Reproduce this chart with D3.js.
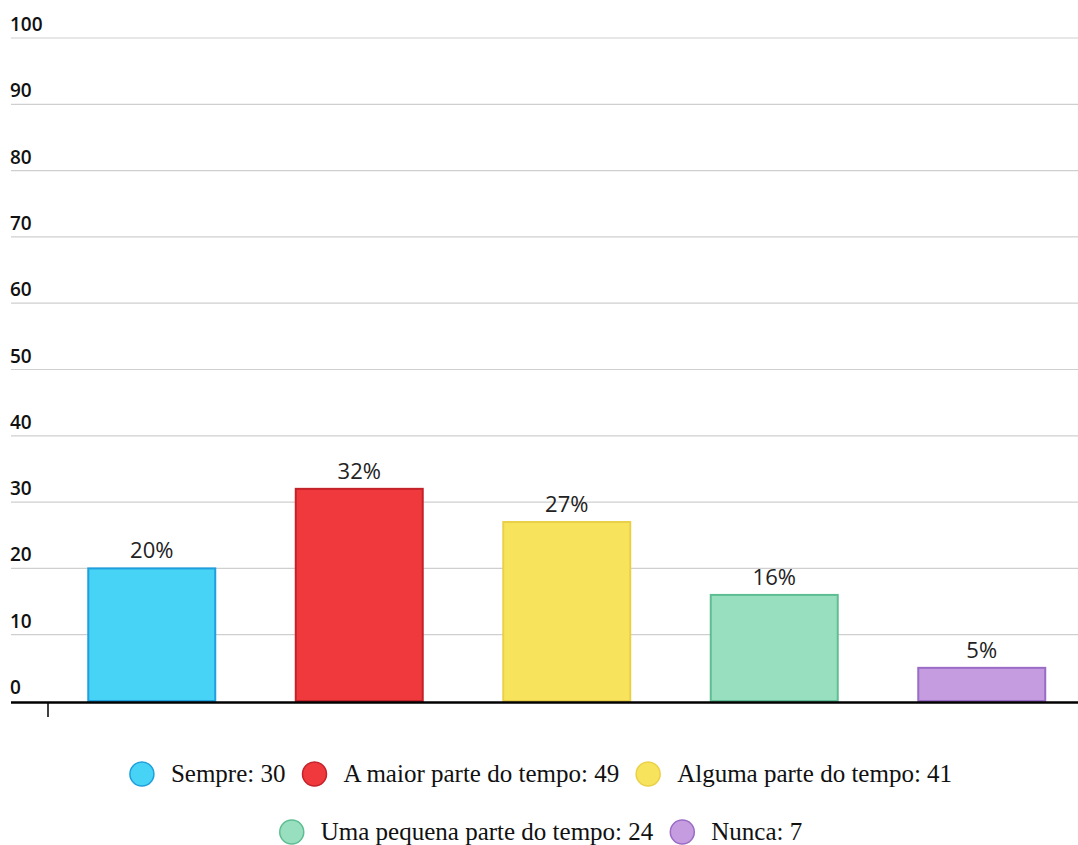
<!DOCTYPE html>
<html>
<head>
<meta charset="utf-8">
<script src="https://cdn.jsdelivr.net/npm/d3@7"></script>
<style>
  body { margin: 0; background: #fff; }
  svg { display: block; }
</style>
</head>
<body>
<svg id="chart" width="1078" height="845"></svg>
<script>
// Data
const categories = ['Sempre', 'A maior parte do tempo', 'Alguma parte do tempo', 'Uma pequena parte do tempo', 'Nunca'];
const percents = [20, 32, 27, 16, 5];
const counts = [30, 49, 41, 24, 7];
const yTicks = [0, 10, 20, 30, 40, 50, 60, 70, 80, 90, 100];

const fills = ['#47d3f5', '#ef393d', '#f7e45c', '#98dfc0', '#c59cdf'];
const strokes = ['#1f9fdc', '#c4222a', '#ead048', '#5ebd92', '#9a6cc6'];

const svg = d3.select('#chart');

// Scales
const x = d3.scaleBand()
    .domain(categories)
    .range([48, 1085.5])
    .paddingInner(0.388)
    .paddingOuter(0.194);
const y = d3.scaleLinear().domain([0, 100]).range([701, 38]);

// Gridlines and tick labels
const grid = svg.append('g');
grid.selectAll('line')
    .data(yTicks.filter(d => d > 0))
    .enter()
    .append('line')
    .attr('x1', 11)
    .attr('x2', 1078)
    .attr('y1', d => y(d))
    .attr('y2', d => y(d))
    .attr('stroke', '#cfcfcf')
    .attr('stroke-width', 1.2);

grid.selectAll('text')
    .data(yTicks)
    .enter()
    .append('text')
    .attr('x', 10)
    .attr('y', d => y(d) - 7)
    .style('font-family', "'Open Sans', sans-serif")
    .style('font-size', '19px')
    .style('font-weight', '600')
    .attr('fill', '#111')
    .text(d => d);

// Bars
svg.selectAll('.bar')
    .data(categories)
    .enter()
    .append('rect')
    .attr('class', 'bar')
    .attr('x', d => x(d))
    .attr('y', (d, i) => y(percents[i]))
    .attr('width', x.bandwidth())
    .attr('height', (d, i) => y(0) - y(percents[i]))
    .attr('fill', (d, i) => fills[i])
    .attr('stroke', (d, i) => strokes[i])
    .attr('stroke-width', 2);

// Value labels
svg.selectAll('.label')
    .data(categories)
    .enter()
    .append('text')
    .attr('class', 'label')
    .attr('x', d => x(d) + x.bandwidth() / 2)
    .attr('y', (d, i) => y(percents[i]) - 10)
    .attr('text-anchor', 'middle')
    .style('font-family', "'Open Sans', sans-serif")
    .style('font-size', '22px')
    .attr('fill', '#222')
    .text((d, i) => percents[i] + '%');

// Baseline axis
svg.append('line')
    .attr('x1', 11).attr('x2', 1078)
    .attr('y1', y(0) + 1.5).attr('y2', y(0) + 1.5)
    .attr('stroke', '#000')
    .attr('stroke-width', 2.5);
svg.append('line')
    .attr('x1', 48).attr('x2', 48)
    .attr('y1', y(0) + 2).attr('y2', y(0) + 16)
    .attr('stroke', '#000')
    .attr('stroke-width', 1.5);

// Legend, two centered rows
const rows = [[0, 1, 2], [3, 4]];
const rowY = [774, 832];
const centerX = 541;
const r = 12;

rows.forEach((row, ri) => {
    const g = svg.append('g');
    let cx = 0;
    row.forEach((i, k) => {
        const item = g.append('g').attr('transform', `translate(${cx},0)`);
        item.append('circle')
            .attr('cx', r)
            .attr('cy', rowY[ri])
            .attr('r', r)
            .attr('fill', fills[i])
            .attr('stroke', strokes[i])
            .attr('stroke-width', 1.5);
        const t = item.append('text')
            .attr('x', r + 29)
            .attr('y', rowY[ri] + 8)
            .style('font-family', "'Liberation Serif', serif")
            .style('font-size', '25px')
            .attr('fill', '#111')
            .text(`${categories[i]}: ${counts[i]}`);
        const w = t.node().getComputedTextLength();
        cx += r + 29 + w + (k < row.length - 1 ? 17 : 0);
    });
    g.attr('transform', `translate(${centerX - cx / 2},0)`);
});
</script>
</body>
</html>
